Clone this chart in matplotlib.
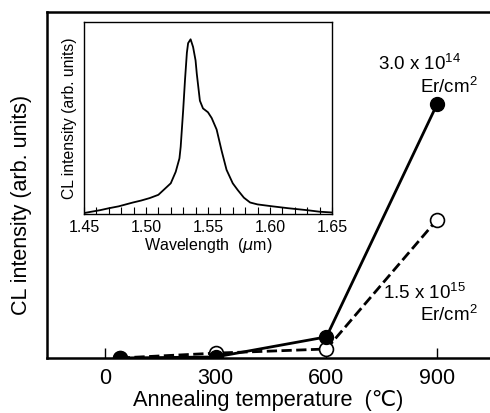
import matplotlib
matplotlib.use("Agg")
import matplotlib.pyplot as plt

plt.rcParams['font.family'] = ['Liberation Sans', 'DejaVu Sans']
plt.rcParams['mathtext.fontset'] = 'custom'
plt.rcParams['mathtext.rm'] = 'Liberation Sans'

# main data: annealing temperature vs CL intensity
temperatura = [40, 300, 600, 900]
cl_3e14 = [0.0, 0.003, 0.061, 0.734]
cl_15e15 = [0.0, 0.014, 0.026, 0.40]

# inset spectrum
lambda_um = [1.450, 1.456, 1.463, 1.470, 1.478, 1.4895, 1.496, 1.503, 1.510, 1.515,
             1.520, 1.524, 1.527, 1.528, 1.530, 1.5315, 1.533, 1.534, 1.536, 1.538,
             1.540, 1.541, 1.5435, 1.546, 1.548, 1.550, 1.553, 1.557, 1.561, 1.565,
             1.570, 1.574, 1.579, 1.584, 1.590, 1.602, 1.615, 1.630, 1.640, 1.650]
espectro = [0.005, 0.012, 0.02, 0.03, 0.04, 0.06, 0.07, 0.083, 0.10, 0.13,
            0.16, 0.22, 0.29, 0.35, 0.54, 0.70, 0.84, 0.89, 0.91, 0.87,
            0.80, 0.73, 0.59, 0.55, 0.54, 0.53, 0.50, 0.44, 0.33, 0.23,
            0.16, 0.125, 0.085, 0.06, 0.05, 0.04, 0.03, 0.02, 0.012, 0.008]

fig = plt.figure(figsize=(4.9, 4.13), dpi=100)
ax = fig.add_axes([0.0959, 0.1332, 0.904, 0.8378])

ax.plot(temperatura, cl_15e15, color='black', linestyle='--', linewidth=2,
        marker='o', markersize=10, markerfacecolor='white', markeredgecolor='black',
        markeredgewidth=1.2, zorder=3)
ax.plot(temperatura, cl_3e14, color='black', linestyle='-', linewidth=2,
        marker='o', markersize=10, markerfacecolor='black', markeredgecolor='black',
        zorder=4)

ax.set_xlim(-157, 1043)
ax.set_ylim(0, 1)
ax.set_xticks([0, 300, 600, 900])
ax.set_yticks([])
ax.tick_params(axis='x', direction='in', length=7, width=1, labelsize=15.5, pad=7)
ax.spines['right'].set_visible(False)
for s in ['left', 'top', 'bottom']:
    ax.spines[s].set_linewidth(1.8)
ax.set_xlabel("Annealing temperature  (℃)", fontsize=15.7, labelpad=1)
ax.set_ylabel("CL intensity (arb. units)", fontsize=15.5)
ax.yaxis.set_label_coords(-0.034, 0.442)

ax.text(0.842, 0.85, r"3.0 x 10$^{14}$", transform=ax.transAxes, fontsize=13.5, ha='center', va='center')
ax.text(0.973, 0.785, r"Er/cm$^{2}$", transform=ax.transAxes, fontsize=13.5, ha='right', va='center')
ax.text(0.853, 0.19, r"1.5 x 10$^{15}$", transform=ax.transAxes, fontsize=13.5, ha='center', va='center')
ax.text(0.973, 0.125, r"Er/cm$^{2}$", transform=ax.transAxes, fontsize=13.5, ha='right', va='center')

# inset
axi = fig.add_axes([0.1714, 0.4818, 0.506, 0.4649])
axi.plot(lambda_um, espectro, color='black', linewidth=1.3)
axi.set_xlim(1.45, 1.65)
axi.set_ylim(0, 1)
axi.set_xticks([1.45, 1.50, 1.55, 1.60, 1.65])
axi.set_xticklabels(["1.45", "1.50", "1.55", "1.60", "1.65"])
axi.set_xticks([1.45 + 0.01 * i for i in range(21)], minor=True)
axi.set_yticks([])
axi.tick_params(axis='x', which='both', direction='in', length=5, width=0.8, labelsize=11.5, pad=4)
for s in axi.spines.values():
    s.set_linewidth(1.0)
axi.set_xlabel(r"Wavelength  ($\mu$m)", fontsize=11.5, labelpad=1)
axi.set_ylabel("CL intensity (arb. units)", fontsize=11.3, labelpad=5)

fig.savefig("out.png", dpi=100)
